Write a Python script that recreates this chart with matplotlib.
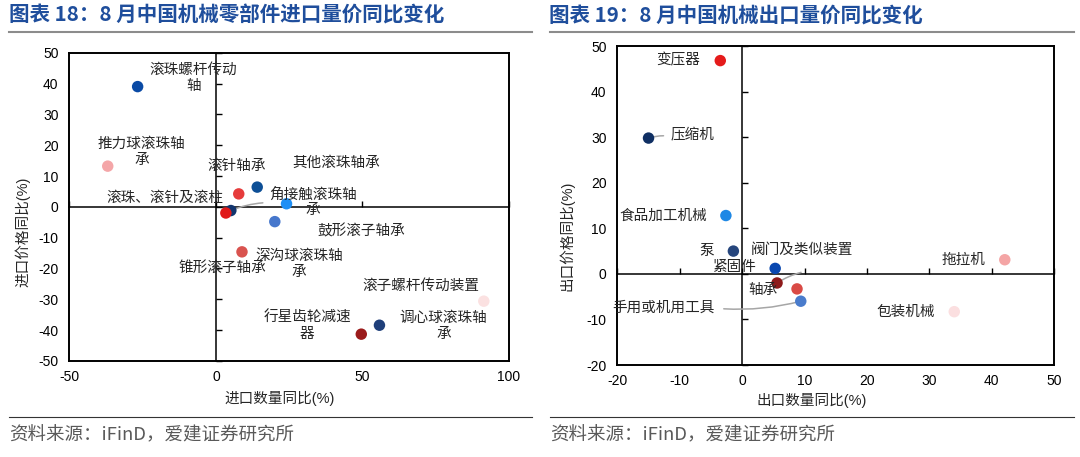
import matplotlib
matplotlib.use("Agg")
import matplotlib.pyplot as plt
from matplotlib.lines import Line2D

plt.rcParams['font.family'] = ['Liberation Sans', 'Noto Sans CJK SC']
plt.rcParams['axes.unicode_minus'] = False

# ---- 图表18: 进口 ----
imp_labels = ['滚珠螺杆传动\n轴', '推力球滚珠轴\n承', '滚针轴承', '其他滚珠轴承',
              '角接触滚珠轴\n承', '滚珠、滚针及滚柱', '鼓形滚子轴承', '锥形滚子轴承',
              '深沟球滚珠轴\n承', '滚子螺杆传动装置', '行星齿轮减速\n器', '调心球滚珠轴\n承']
imp_qty = [-26.7, -36.9, 7.8, 14.1, 5.1, 3.4, 24.1, 20.1, 8.9, 91.4, 49.6, 55.8]
imp_price = [39.0, 13.2, 4.2, 6.4, -1.2, -2.0, 1.0, -4.8, -14.6, -30.6, -41.3, -38.4]

# ---- 图表19: 出口 ----
exp_labels = ['变压器', '压缩机', '食品加工机械', '泵', '紧固件', '阀门及类似装置',
              '轴承', '手用或机用工具', '拖拉机', '包装机械']
exp_qty = [-3.5, -15.0, -2.6, -1.4, 5.3, 5.6, 8.8, 9.4, 42.1, 34.0]
exp_price = [46.8, 29.8, 12.8, 5.0, 1.2, -2.0, -3.3, -6.0, 3.1, -8.3]

# styles / layout
imp_colors = ['#0a4aa5', '#f4a6a8', '#e63c3c', '#0d4f96', '#12356e', '#e01919',
              '#1e8ff5', '#4677cc', '#d9534f', '#fbe1e1', '#9b1b1b', '#1f3f7a']
imp_offsets = [(56, 8.5), (34, 14.4), (-2, 28), (79, 24), (82, 8), (-61, 15),
               (75, -28), (-52, -46), (57, -12), (-63, 15), (-54, 8.4), (64, -0.6)]
imp_leaders = {4: (32, 7.7)}

exp_colors = ['#e51b1b', '#0f2f63', '#1e88e5', '#26467d', '#0a48b0', '#8e1a1a',
              '#d94a45', '#4a7ccc', '#f4a5a5', '#fbdfe0']
exp_offsets = [(-42, 0), (44, 2.3), (-63, -0.7), (-27, 0), (-41, 1.4), (25, 32.6),
               (-34.5, -0.7), (-137, -6.6), (-41.5, 0), (-49, 0)]
exp_leaders = {1: (15, 2.3), 5: (24, 10.6), 7: (-77, -7.6)}

TITLE_C = '#1f4e9c'
TXT = '#262626'


def panel(fig, rect, xs, ys, labels, colors, offsets, leaders,
          xlim, ylim, xticks, yticks, xlabel, ylabel, xl_pos, yl_pos):
    # cross axes through origin with inward ticks
    axc = fig.add_axes(rect, zorder=0)
    axc.set_xlim(xlim)
    axc.set_ylim(ylim)
    axc.set_xticks(xticks)
    axc.set_yticks(yticks)
    for s in ['top', 'right']:
        axc.spines[s].set_visible(False)
    axc.spines['left'].set_position(('data', 0))
    axc.spines['bottom'].set_position(('data', 0))
    axc.spines['left'].set_linewidth(1.1)
    axc.spines['bottom'].set_linewidth(1.1)
    axc.tick_params(direction='in', length=4, width=1.0,
                    labelbottom=False, labelleft=False)

    ax = fig.add_axes(rect, zorder=1)
    ax.patch.set_alpha(0)
    ax.set_xlim(xlim)
    ax.set_ylim(ylim)
    ax.set_xticks(xticks)
    ax.set_yticks(yticks)
    ax.tick_params(length=0, labelsize=10, colors='black')
    ax.tick_params(axis='y', pad=7.8)
    ax.tick_params(axis='x', pad=6.5)
    for s in ax.spines.values():
        s.set_linewidth(1.4)
        s.set_color('black')

    for i in leaders:
        dx, dy = leaders[i]
        ax.annotate('', xy=(xs[i], ys[i]), xytext=(dx, dy), textcoords='offset pixels',
                    arrowprops=dict(arrowstyle='-', color='#a6a6a6', lw=1.1,
                                    shrinkA=0, shrinkB=0,
                                    connectionstyle='arc3,rad=0.08'),
                    zorder=2)
    ax.scatter(xs, ys, s=68, c=colors, linewidths=0, zorder=3)
    for i, lab in enumerate(labels):
        ax.annotate(lab, xy=(xs[i], ys[i]), xytext=offsets[i], textcoords='offset pixels',
                    ha='center', va='center', multialignment='center',
                    fontsize=10.5, color=TXT, zorder=4, linespacing=1.15)

    ax.set_xlabel(xlabel, fontsize=10.5, color=TXT)
    ax.set_ylabel(ylabel, fontsize=10.5, color=TXT)
    ax.xaxis.set_label_coords(*xl_pos)
    ax.yaxis.set_label_coords(*yl_pos)
    return ax


fig = plt.figure(figsize=(10.8, 4.57), dpi=100, facecolor='white')

panel(fig, [0.0642, 0.2101, 0.4071, 0.6746], imp_qty, imp_price, imp_labels,
      imp_colors, imp_offsets, imp_leaders,
      (-50, 100), (-50, 50), [-50, 0, 50, 100], list(range(-50, 51, 10)),
      '进口数量同比(%)', '进口价格同比(%)', (0.4785, -0.097), (-0.088, 0.419))

panel(fig, [0.5716, 0.2013, 0.4044, 0.6980], exp_qty, exp_price, exp_labels,
      exp_colors, exp_offsets, exp_leaders,
      (-20, 50), (-20, 50), list(range(-20, 51, 10)), list(range(-20, 51, 10)),
      '出口数量同比(%)', '出口价格同比(%)', (0.444, -0.089), (-0.099, 0.405))

# titles, rules, sources
fig.text(0.0086, 0.9672, '图表 18：8 月中国机械零部件进口量价同比变化', fontsize=14.8,
         fontweight='bold', color=TITLE_C, va='center', ha='left',
         family=['Noto Sans CJK SC', 'DejaVu Sans'])
fig.text(0.508, 0.9672, '图表 19：8 月中国机械出口量价同比变化', fontsize=14.8,
         fontweight='bold', color=TITLE_C, va='center', ha='left',
         family=['Noto Sans CJK SC', 'DejaVu Sans'])
for x0, x1 in [(9 / 1080, 532 / 1080), (550 / 1080, 1074 / 1080)]:
    fig.add_artist(Line2D([x0, x1], [1 - 32.3 / 457] * 2, color='#8c8c8c', lw=1.5))
    fig.add_artist(Line2D([x0, x1], [1 - 417 / 457] * 2, color='#333333', lw=0.8))

fig.text(0.008, 1 - 435 / 457, '资料来源：iFinD，爱建证券研究所', fontsize=13.3,
         color='#595959', va='center', ha='left', family=['Noto Sans CJK SC', 'DejaVu Sans'])
fig.text(0.5089, 1 - 435 / 457, '资料来源：iFinD，爱建证券研究所', fontsize=13.3,
         color='#595959', va='center', ha='left', family=['Noto Sans CJK SC', 'DejaVu Sans'])

fig.savefig('out.png', dpi=100, facecolor='white')
